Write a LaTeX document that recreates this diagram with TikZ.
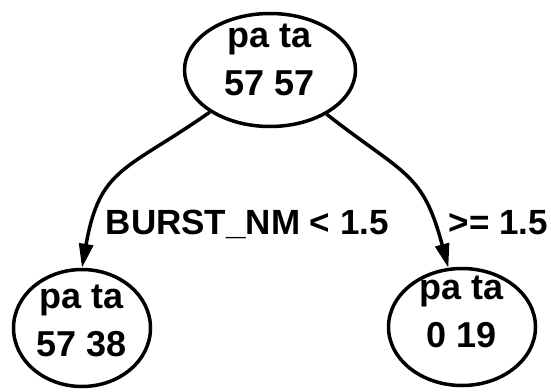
\documentclass[tikz,border=0pt]{standalone}
\usepackage{fontspec}
\setmainfont{Liberation Sans}
\usetikzlibrary{shapes.geometric,arrows.meta}

\begin{document}
\begin{tikzpicture}[x=1pt, y=-1pt, line width=3.5pt, >={Triangle[length=24pt,width=14pt]}]
            \useasboundingbox (0,0) rectangle (551,391);
            \begin{scope}[every node/.style={ellipse,draw,inner sep=0pt,align=center,font=\fontsize{36}{48}\selectfont\bfseries}]
            \node[minimum width=171pt,minimum height=113pt,text height=52pt] (v1) at (270,70) {pa ta\\57 57};
            \node[minimum width=137pt,minimum height=117pt,text height=58pt] (v2) at (82,328) {pa ta\\57 38};
            \node[minimum width=147pt,minimum height=117pt,text height=42pt] (v3) at (462,327) {pa ta\\0 19};
            \end{scope}
            \begin{scope}[every node/.style={anchor=base west,inner sep=0pt,font=\fontsize{35}{42}\selectfont\bfseries}]
            \node (l2) at (104,234) {BURST\_NM < 1.5};
            \node (l3) at (447,234) {>= 1.5};
            \end{scope}
            \begin{scope}[every edge/.style={draw=black,line width=3.5pt,->}]
            \draw  (v1) edge[out=215,in=80,looseness=1.3] (v2.north);
            \draw  (v1) edge[out=-38,in=105,looseness=1.3] (v3.103);
            \end{scope}
            \end{tikzpicture}
\end{document}
